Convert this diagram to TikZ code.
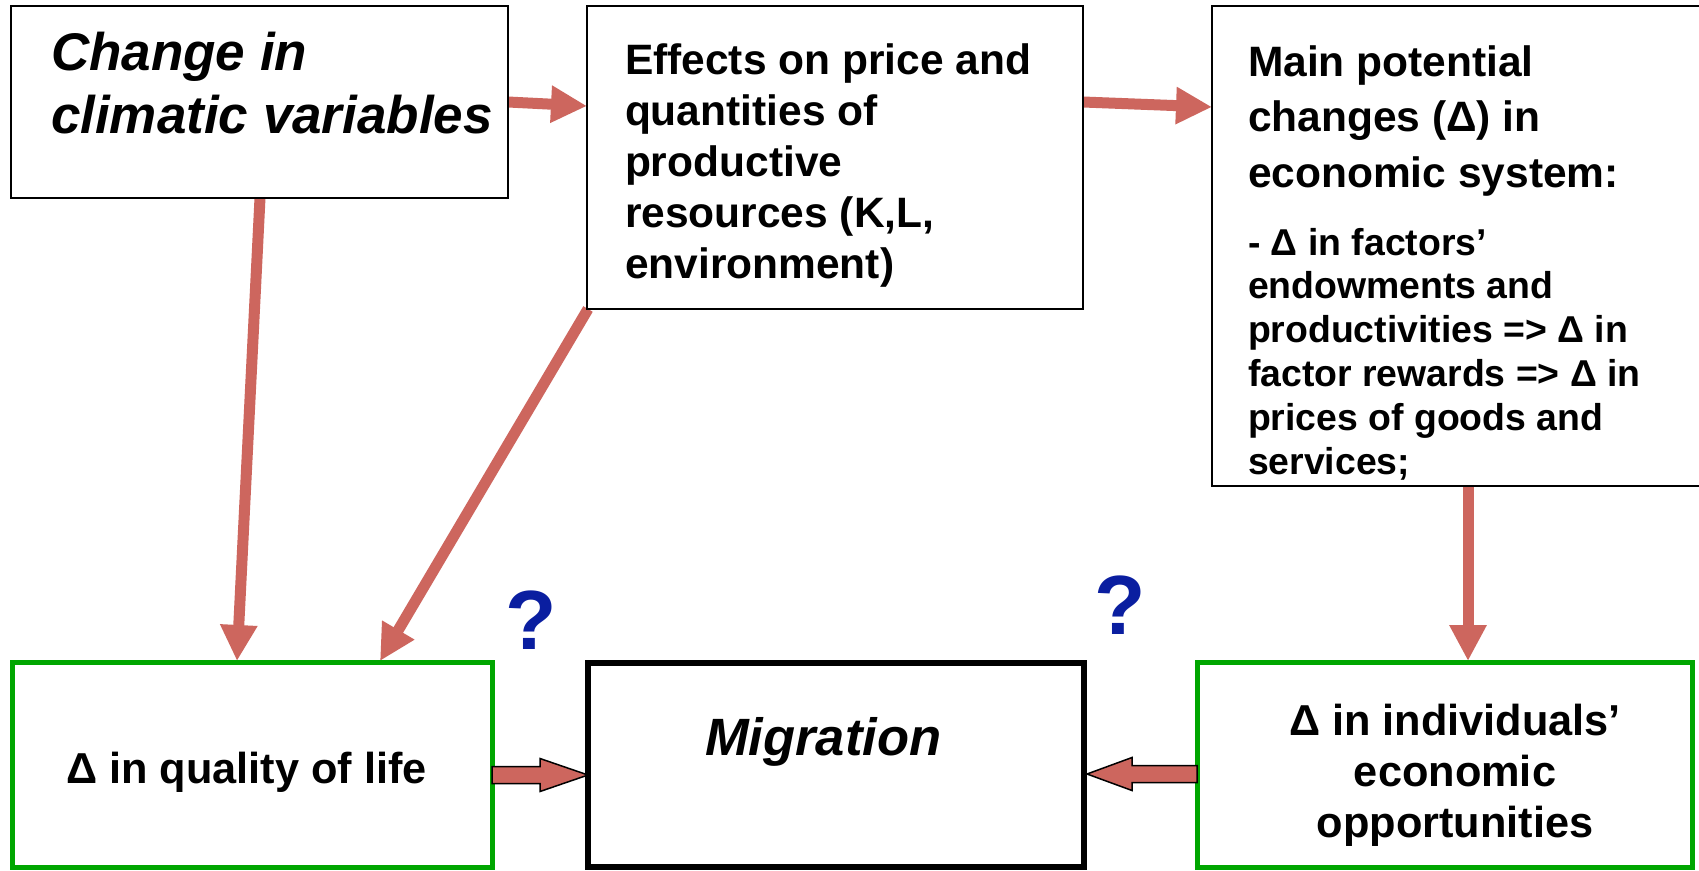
\documentclass[tikz,border=0pt]{standalone}
\usepackage{fontspec}
\setmainfont{Liberation Sans}
\usetikzlibrary{arrows.meta,calc,backgrounds}
\definecolor{arrred}{RGB}{205,102,94}
\definecolor{boxgreen}{RGB}{0,166,0}
\definecolor{qblue}{RGB}{10,30,160}
\begin{document}
\begin{tikzpicture}[x=1pt,y=-1pt,
  basebox/.style={rectangle,outer sep=0pt,inner sep=0pt,anchor=north west},
  thinbox/.style={basebox,draw=black,line width=1.8pt},
  greenbox/.style={basebox,draw=boxgreen,line width=5pt},
  migbox/.style={basebox,draw=black,line width=6pt},
  redarrow/.style={draw=arrred,line width=11pt,-{Triangle[length=36pt,width=35pt]}},
  blockarrow/.style={fill=arrred,draw=black,line width=1.5pt,line join=miter},
  txt/.style={anchor=base west,inner sep=0pt,outer sep=0pt},
  ctxt/.style={anchor=base,inner sep=0pt,outer sep=0pt},
  fbig/.style={font=\fontsize{53pt}{63pt}\selectfont\bfseries\itshape},
  fmig/.style={font=\fontsize{52.5pt}{62pt}\selectfont\bfseries\itshape},
  fmid/.style={font=\fontsize{42.5pt}{51pt}\selectfont\bfseries},
  flab/.style={font=\fontsize{43.3pt}{51pt}\selectfont\bfseries},
  fsmall/.style={font=\fontsize{37.4pt}{44pt}\selectfont\bfseries},
  qmark/.style={inner sep=0pt,outer sep=0pt,text=qblue,font=\fontsize{84pt}{90pt}\selectfont\bfseries}
]
\useasboundingbox (0,0) rectangle (1699,870);

% boxes
\node[thinbox,minimum width=497pt,minimum height=192pt] (b1) at (11,6) {};
\node[thinbox,minimum width=496pt,minimum height=303pt] (b2) at (587,6) {};
\node[thinbox,minimum width=490pt,minimum height=480pt] (b3) at (1212,6) {};
\node[greenbox,minimum width=480pt,minimum height=205pt] (b4) at (12,662) {};
\node[migbox,minimum width=496pt,minimum height=204pt] (b5) at (588,663) {};
\node[greenbox,minimum width=495pt,minimum height=205pt] (b6) at (1197,662) {};

% texts
\node[txt,fbig] (t1a) at (51,70) {Change in};
\node[txt,fbig] (t1b) at (51,133) {climatic variables};

\foreach \s [count=\i from 0] in {Effects on price and, quantities of, productive, {resources (K,L,}, environment)}
  \node[txt,fmid] (t2l\i) at (625,{74+51*\i}) {\s};

\foreach \s [count=\i from 0] in {Main potential, changes (Δ) in, economic system:}
  \node[txt,fmid] (t3a\i) at (1248,{76+55.5*\i}) {\s};

\foreach \s [count=\i from 0] in {- Δ in factors’, endowments and, productivities => Δ in, factor rewards => Δ in, prices of goods and, services;}
  \node[txt,fsmall] (t3b\i) at (1248,{255+43.8*\i}) {\s};

\node[txt,flab] (t4) at (66,783) {Δ in quality of life};
\node[txt,fmig] (t5) at (705,755) {Migration};

\foreach \s [count=\i from 0] in {Δ in individuals’, economic, opportunities}
  \node[ctxt,flab] (t6l\i) at (1455,{735+51*\i}) {\s};

\node[qmark] (q1) at (531,620) {?};
\node[qmark] (q2) at (1120,605) {?};

% arrows behind the boxes
\begin{scope}[on background layer]
\fill[white] (0,0) rectangle (1699,870);
\draw[redarrow] (b1.east) -- ([yshift=-100pt]b2.north west);
\draw[redarrow] ([yshift=-96pt]b2.north east) -- ([yshift=-101pt]b3.north west);
\draw[redarrow] ([xshift=249pt]b1.south west) -- ([xshift=225pt,yshift=1pt]b4.north west);
\draw[redarrow] ([xshift=1pt]b2.south west) -- ([xshift=368pt,yshift=1pt]b4.north west);
\draw[redarrow] ([xshift=256pt]b3.south west) -- ([xshift=271pt,yshift=1pt]b6.north west);
\end{scope}

% block arrows
\coordinate (la) at (b4.east |- 0,775);
\draw[blockarrow] ($(la)+(0,-8.5)$) -- ($(la)+(48,-8.5)$) -- ($(la)+(48,-16.5)$)
  -- (b5.west |- la) -- ($(la)+(48,16.5)$) -- ($(la)+(48,8.5)$) -- ($(la)+(0,8.5)$) -- cycle;
\coordinate (ra) at (b6.west |- 0,774);
\draw[blockarrow] ($(ra)+(0,-8.5)$) -- ($(ra)+(-65,-8.5)$) -- ($(ra)+(-65,-16.5)$)
  -- ($(b5.east |- ra)+(3,0)$) -- ($(ra)+(-65,16.5)$) -- ($(ra)+(-65,8.5)$) -- ($(ra)+(0,8.5)$) -- cycle;
\end{tikzpicture}
\end{document}
